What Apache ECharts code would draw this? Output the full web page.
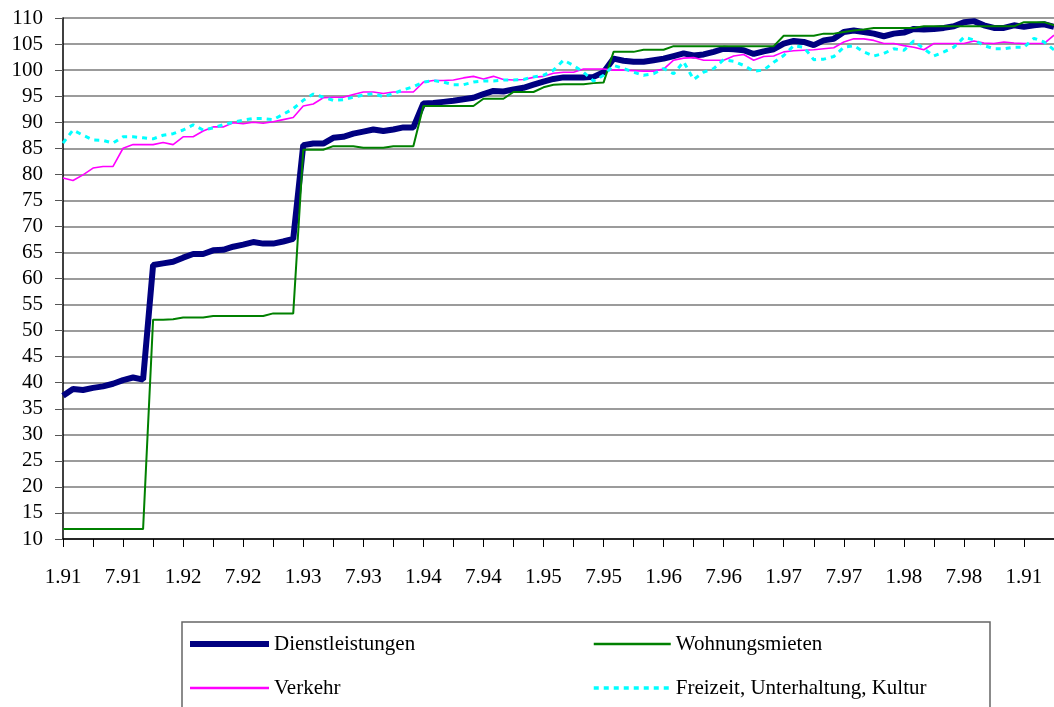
<!DOCTYPE html>
<html>
<head>
<meta charset="utf-8">
<script src="https://cdn.jsdelivr.net/npm/echarts@6/dist/echarts.min.js"></script>
<style>
  html, body { margin: 0; padding: 0; background: #fff; }
  #chart { width: 1054px; height: 707px; }
</style>
</head>
<body>
<div id="chart"></div>
<script>
// labels shown every 6 months (last one reads 1.91 in the original)
var tickLabels = ['1.91', '7.91', '1.92', '7.92', '1.93', '7.93', '1.94', '7.94', '1.95',
  '7.95', '1.96', '7.96', '1.97', '7.97', '1.98', '7.98', '1.91'];

var dienstleistungen = [
  37.5, 38.8, 38.6, 39.0, 39.3, 39.8, 40.5, 41.0, 40.6, 62.6, 62.9, 63.2,
  64.0, 64.7, 64.7, 65.4, 65.5, 66.1, 66.5, 67.0, 66.7, 66.7, 67.1, 67.6,
  85.6, 85.9, 85.9, 87.0, 87.2, 87.8, 88.2, 88.6, 88.3, 88.6, 89.0, 89.0,
  93.6, 93.7, 93.9, 94.1, 94.4, 94.7, 95.4, 96.0, 95.9, 96.3, 96.6, 97.2,
  97.8, 98.3, 98.6, 98.6, 98.6, 98.7, 99.6, 102.2, 101.8, 101.6, 101.6, 101.9,
  102.2, 102.7, 103.2, 102.8, 103.0, 103.5, 104.1, 104.0, 103.8, 103.1, 103.6,
  104.0, 105.1, 105.6, 105.4, 104.8, 105.7, 106.0, 107.3, 107.6, 107.3, 107.0, 106.5,
  107.0, 107.2, 107.9, 107.8, 107.9, 108.1, 108.4, 109.2, 109.4, 108.6, 108.1, 108.1,
  108.6, 108.3, 108.6, 108.8, 108.3
];

var wohnungsmieten = [
  11.9, 11.9, 11.9, 11.9, 11.9, 11.9, 11.9, 11.9, 11.9, 52.1, 52.1, 52.2,
  52.5, 52.5, 52.5, 52.8, 52.8, 52.8, 52.8, 52.8, 52.8, 53.3, 53.3, 53.3,
  84.7, 84.7, 84.7, 85.4, 85.4, 85.4, 85.1, 85.1, 85.1, 85.4, 85.4, 85.4,
  93.1, 93.1, 93.1, 93.1, 93.1, 93.1, 94.5, 94.5, 94.5, 95.8, 95.8, 95.8,
  96.7, 97.2, 97.3, 97.3, 97.3, 97.5, 97.6, 103.5, 103.5, 103.5, 103.9, 103.9,
  103.9, 104.6, 104.6, 104.6, 104.6, 104.6, 104.6, 104.6, 104.6, 104.6, 104.6,
  104.6, 106.6, 106.6, 106.6, 106.6, 107.0, 107.0, 107.3, 107.6, 107.8, 108.1, 108.1,
  108.1, 108.1, 108.1, 108.4, 108.4, 108.4, 108.4, 108.4, 108.4, 108.4, 108.4, 108.4,
  108.4, 109.2, 109.2, 109.2, 108.6
];

var verkehr = [
  79.3, 78.8, 79.9, 81.2, 81.5, 81.5, 85.0, 85.7, 85.7, 85.7, 86.1, 85.7,
  87.2, 87.2, 88.3, 89.1, 89.1, 89.9, 89.7, 90.0, 89.8, 90.1, 90.5, 90.9,
  93.1, 93.5, 94.7, 94.8, 94.8, 95.3, 95.8, 95.8, 95.5, 95.8, 95.8, 95.8,
  97.7, 98.0, 98.0, 98.1, 98.5, 98.8, 98.3, 98.8, 98.2, 98.1, 98.2, 98.6,
  98.8, 99.4, 99.6, 99.6, 100.2, 100.2, 100.2, 100.0, 100.0, 99.9, 99.8, 99.8,
  100.2, 101.9, 102.3, 102.4, 101.9, 101.9, 101.9, 102.7, 103.0, 101.9, 102.6,
  102.7, 103.5, 103.7, 103.8, 103.9, 104.1, 104.3, 105.4, 106.0, 106.0, 105.7, 105.1,
  105.1, 104.7, 104.4, 103.9, 105.1, 105.1, 105.1, 105.1, 105.6, 105.2, 105.1, 105.4,
  105.2, 105.1, 105.1, 105.1, 106.7
];

var freizeit = [
  86.0, 88.5, 87.5, 86.6, 86.5, 86.0, 87.2, 87.2, 87.0, 86.8, 87.5, 87.8,
  88.5, 89.5, 88.5, 88.9, 89.5, 90.0, 90.4, 90.7, 90.7, 90.5, 91.5, 92.6,
  94.2, 95.4, 94.8, 94.2, 94.3, 94.8, 95.2, 95.5, 94.9, 95.5, 96.2, 96.8,
  97.7, 98.0, 97.7, 97.2, 97.2, 97.7, 97.9, 97.9, 98.1, 98.1, 98.2, 98.7,
  99.0, 100.0, 101.9, 100.9, 99.6, 97.9, 99.0, 100.9, 100.3, 99.6, 99.0, 99.3,
  100.3, 99.3, 101.6, 98.2, 99.6, 100.3, 102.0, 101.7, 100.9, 99.8, 100.0,
  101.5, 102.8, 104.7, 104.4, 102.0, 102.1, 102.6, 104.4, 104.7, 103.5, 102.7, 103.2,
  104.1, 103.8, 105.6, 104.1, 102.7, 103.5, 104.4, 106.3, 105.8, 104.7, 104.1, 104.1,
  104.4, 104.4, 106.1, 105.4, 103.9
];

// monthly categories, Jan 91 onwards
var months = [];
for (var i = 0; i < dienstleistungen.length; i++) {
  if (i % 6 === 0 && tickLabels[i / 6]) {
    months.push(tickLabels[i / 6]);
  } else {
    months.push((i % 12 + 1) + '.' + (91 + Math.floor(i / 12)));
  }
}

var font = 'Liberation Serif';
var chart = echarts.init(document.getElementById('chart'));

chart.setOption({
  animation: false,
  backgroundColor: '#fff',
  grid: { left: 63, right: 0, top: 18, height: 521 },
  xAxis: {
    type: 'category',
    boundaryGap: false,
    data: months,
    axisLine: { lineStyle: { color: '#000', width: 1.5 } },
    axisTick: { interval: 2, length: 8, lineStyle: { color: '#000' } },
    axisLabel: { interval: 5, margin: 28, color: '#000', fontFamily: font, fontSize: 21 },
    splitLine: { show: false }
  },
  yAxis: {
    type: 'value',
    min: 10, max: 110, interval: 5,
    axisLine: { show: true, lineStyle: { color: '#000', width: 1.5 } },
    axisTick: { show: true, length: 8, lineStyle: { color: '#555' } },
    axisLabel: { margin: 20, color: '#000', fontFamily: font, fontSize: 21 },
    splitLine: { lineStyle: { color: '#7a7a7a', width: 1.5 } }
  },
  legend: [{
    orient: 'vertical', left: 187, top: 632, padding: 0,
    itemWidth: 79, itemHeight: 14, itemGap: 20, selectedMode: false,
    textStyle: { fontFamily: font, fontSize: 21, color: '#000', lineHeight: 24 },
    itemStyle: { opacity: 0 },
    lineStyle: { width: 'inherit' },
    data: [{ name: 'Dienstleistungen', lineStyle: { width: 6 } },
           { name: 'Verkehr', lineStyle: { width: 2.5 } }]
  }, {
    orient: 'vertical', left: 592, top: 632, padding: 0,
    itemWidth: 77, itemHeight: 14, itemGap: 20, selectedMode: false,
    textStyle: { fontFamily: font, fontSize: 21, color: '#000', lineHeight: 24 },
    itemStyle: { opacity: 0 },
    lineStyle: { width: 'inherit' },
    data: [{ name: 'Wohnungsmieten', lineStyle: { width: 2.5 } },
           { name: 'Freizeit, Unterhaltung, Kultur', lineStyle: { width: 3.5 } }]
  }],
  graphic: [{
    type: 'rect',
    shape: { x: 182, y: 622, width: 808, height: 120 },
    style: { fill: 'none', stroke: '#666', lineWidth: 1.5 }
  }],
  series: [{
    name: 'Dienstleistungen', type: 'line', data: dienstleistungen,
    symbol: 'none', z: 2,
    lineStyle: { color: '#000080', width: 6 },
    itemStyle: { color: '#000080' }
  }, {
    name: 'Wohnungsmieten', type: 'line', data: wohnungsmieten,
    symbol: 'none', z: 3,
    lineStyle: { color: '#008000', width: 2 },
    itemStyle: { color: '#008000' }
  }, {
    name: 'Verkehr', type: 'line', data: verkehr,
    symbol: 'none', z: 4,
    lineStyle: { color: '#ff00ff', width: 1.6 },
    itemStyle: { color: '#ff00ff' }
  }, {
    name: 'Freizeit, Unterhaltung, Kultur', type: 'line', data: freizeit,
    symbol: 'none', z: 5,
    lineStyle: { color: '#00ffff', width: 3, type: [5, 5] },
    itemStyle: { color: '#00ffff' }
  }]
});
</script>
</body>
</html>
